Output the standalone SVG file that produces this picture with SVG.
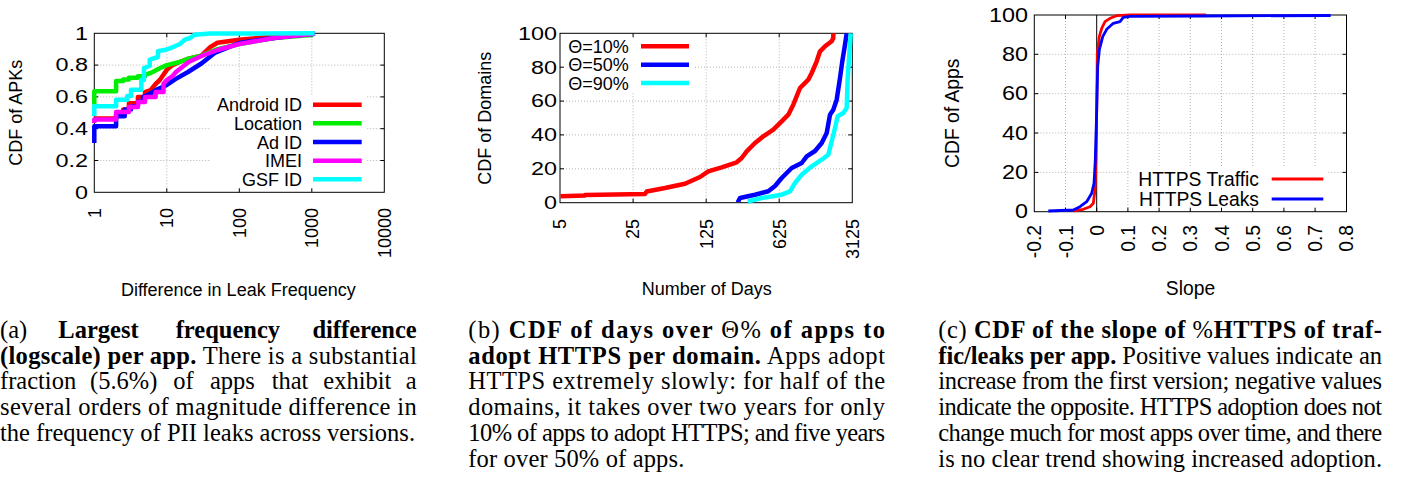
<svg xmlns="http://www.w3.org/2000/svg" width="1406" height="479" viewBox="0 0 1406 479">
<style>
  .frame { fill: none; stroke: #000; stroke-width: 1; }
  .grid { fill: none; stroke: #b4b4b4; stroke-width: 1; stroke-dasharray: 1 2; }
  .tick { fill: none; stroke: #000; stroke-width: 1; }
  .zero { fill: none; stroke: #000; stroke-width: 1; }
  .sans { font-family: "Liberation Sans", Arial, sans-serif; font-size: 18px; fill: #000; }
  .big { font-size: 19.3px; }
  .ylab { text-anchor: end; }
  .xlab { text-anchor: end; }
  .mid { text-anchor: middle; }
  .key { fill: #fff; stroke: none; }
  .thick { fill: none; stroke-width: 4.5; stroke-linejoin: round; stroke-linecap: butt; }
  .thin { fill: none; stroke-width: 2.8; stroke-linejoin: round; stroke-linecap: butt; }
  .red { stroke: #ff0000; }
  .green { stroke: #00ee00; }
  .blue { stroke: #0000ff; }
  .magenta { stroke: #ff00ff; }
  .cyan { stroke: #00ffff; }
  .cap { font-family: "Liberation Serif", "Times New Roman", serif; font-size: 24.5px; fill: #000; }
  .b { font-weight: bold; }
  .m { font-weight: normal; }
</style>

<!-- (a) largest frequency difference, log-scale x axis -->
<g id="plot-a">
  <g class="grid-lines">
    <path class="grid" d="M166.8,33.3V192.3 M239.3,33.3V192.3 M311.8,33.3V192.3"/>
    <path class="grid" d="M94.3,160.5H384.3 M94.3,128.7H384.3 M94.3,96.9H384.3 M94.3,65.1H384.3"/>
  </g>
  <rect class="key" x="211" y="95" width="156" height="93"/>
  <path class="tick" d="M166.8,192.3v-4 M239.3,192.3v-4 M311.8,192.3v-4 M166.8,33.3v4 M239.3,33.3v4 M311.8,33.3v4
    M94.3,160.5h4 M94.3,128.7h4 M94.3,96.9h4 M94.3,65.1h4 M384.3,160.5h-4 M384.3,128.7h-4 M384.3,96.9h-4 M384.3,65.1h-4"/>
  <rect class="frame" x="94.3" y="33.3" width="290" height="159"/>
  <g class="sans ylab">
    <text x="88" y="198.6" textLength="13" lengthAdjust="spacingAndGlyphs">0</text>
    <text x="88" y="166.8" textLength="32.5" lengthAdjust="spacingAndGlyphs">0.2</text>
    <text x="88" y="135" textLength="32.5" lengthAdjust="spacingAndGlyphs">0.4</text>
    <text x="88" y="103.2" textLength="32.5" lengthAdjust="spacingAndGlyphs">0.6</text>
    <text x="88" y="71.4" textLength="32.5" lengthAdjust="spacingAndGlyphs">0.8</text>
    <text x="88" y="39.6" textLength="13" lengthAdjust="spacingAndGlyphs">1</text>
  </g>
  <g class="sans xlab">
    <text transform="translate(100.6,208) rotate(-90)">1</text>
    <text transform="translate(173.1,208) rotate(-90)">10</text>
    <text transform="translate(245.6,208) rotate(-90)">100</text>
    <text transform="translate(318.1,208) rotate(-90)">1000</text>
    <text transform="translate(390.6,208) rotate(-90)">10000</text>
  </g>
  <text class="sans mid" transform="translate(21.7,112.7) rotate(-90)">CDF of APKs</text>
  <text class="sans mid" x="238.3" y="296">Difference in Leak Frequency</text>
  <g class="curves">
    <polyline class="thick red" points="94.3,118.4 116.1,118.4 116.1,114.4 123.2,114.4 123.2,109.6 128.9,109.6 128.9,103.3 137.9,103.3 137.9,96.9 145,96.9 145,92.1 150.7,90 155.6,84 159.8,80 166.8,69.9 172.5,65.1 179.6,62 188.6,58.7 201.4,55.6 210.4,47 217.5,42.8 239.3,39.7 273.9,36.5 311.8,33.8 314.7,33.5"/>
    <polyline class="thick green" points="94.3,104.8 94.3,91.3 116.1,91.3 116.1,81 123.2,81 123.2,79.4 128.9,79.4 128.9,77.8 137.9,77.8 137.9,76.2 145,76.2 145,74.6 150.7,73 159.8,68.3 166.8,65.1 179.6,62 188.6,58.7 201.4,55.6 217.5,49.2 239.3,44 273.9,38 311.8,34.9 314.7,33.5"/>
    <polyline class="thick blue" points="94.3,143 94.3,126.3 116.1,126.3 116.1,116.3 124.7,116.3 124.7,109.6 131,109.6 131,106.4 137.9,106.4 137.9,101.7 143,101.7 143,97 150,93.7 158,89 166.8,85 175,79.4 188,72 201.4,63.5 214.7,53 227,48 239.3,43 261,39.7 290,36 311.8,34 314.7,33.5"/>
    <polyline class="thick magenta" points="94.3,123 94.3,119.5 116.1,119.5 116.1,112 128.9,112 128.9,107 137.9,107 137.9,102 145,102 145,97 155.6,97 155.6,92 163.5,92 163.5,84 166.8,80 172.5,76 176,72 188.6,62 201.4,56 217.5,50 239.3,44 273.9,38 311.8,34 314.7,33.5"/>
    <polyline class="thick cyan" points="94.3,116 94.3,106.3 116.1,106.3 116.1,99.7 127.3,99.7 127.3,96 131,96 131,89.7 141.3,89.7 141.3,80 144,80 144,68 149.7,66 149.7,59.7 158,57 158,51.3 166.8,49.5 174.7,46.3 180,44 184.7,39.7 190,38 194.7,34.7 210,33.6 314.7,33.3"/>
  </g>
  <g class="legend">
    <text class="sans ylab" x="302" y="111.2">Android ID</text>
    <text class="sans ylab" x="302" y="129.8">Location</text>
    <text class="sans ylab" x="302" y="148.5">Ad ID</text>
    <text class="sans ylab" x="302" y="167.2">IMEI</text>
    <text class="sans ylab" x="302" y="185.8">GSF ID</text>
    <path class="thick red" d="M313,104.7H361.7"/>
    <path class="thick green" d="M313,123.3H361.7"/>
    <path class="thick blue" d="M313,142H361.7"/>
    <path class="thick magenta" d="M313,160.7H361.7"/>
    <path class="thick cyan" d="M313,179.3H361.7"/>
  </g>
</g>

<!-- (b) days until a share of apps adopts HTTPS, base-5 log x axis -->
<g id="plot-b">
  <g class="grid-lines">
    <path class="grid" d="M633.1,33.3V202.7 M706.2,33.3V202.7 M779.2,33.3V202.7"/>
    <path class="grid" d="M560,168.8H852.3 M560,134.9H852.3 M560,101.1H852.3 M560,67.2H852.3"/>
  </g>
  <rect class="key" x="562" y="36" width="132" height="57"/>
  <path class="tick" d="M633.1,202.7v-4 M706.2,202.7v-4 M779.2,202.7v-4 M633.1,33.3v4 M706.2,33.3v4 M779.2,33.3v4
    M560,168.8h4 M560,134.9h4 M560,101.1h4 M560,67.2h4 M852.3,168.8h-4 M852.3,134.9h-4 M852.3,101.1h-4 M852.3,67.2h-4"/>
  <rect class="frame" x="560" y="33.3" width="292.3" height="169.4"/>
  <g class="sans ylab">
    <text x="557" y="209" textLength="13" lengthAdjust="spacingAndGlyphs">0</text>
    <text x="557" y="175.1" textLength="26" lengthAdjust="spacingAndGlyphs">20</text>
    <text x="557" y="141.2" textLength="26" lengthAdjust="spacingAndGlyphs">40</text>
    <text x="557" y="107.4" textLength="26" lengthAdjust="spacingAndGlyphs">60</text>
    <text x="557" y="73.5" textLength="26" lengthAdjust="spacingAndGlyphs">80</text>
    <text x="557" y="39.6" textLength="39" lengthAdjust="spacingAndGlyphs">100</text>
  </g>
  <g class="sans xlab">
    <text transform="translate(566.3,219) rotate(-90)">5</text>
    <text transform="translate(639.4,219) rotate(-90)">25</text>
    <text transform="translate(712.5,219) rotate(-90)">125</text>
    <text transform="translate(785.5,219) rotate(-90)">625</text>
    <text transform="translate(858.6,219) rotate(-90)">3125</text>
  </g>
  <text class="sans mid" transform="translate(490.7,118.3) rotate(-90)">CDF of Domains</text>
  <text class="sans mid" x="706.7" y="295">Number of Days</text>
  <g class="curves">
    <polyline class="thick red" points="560.5,196.3 585,195.5 585,195 645,194 646.7,191.5 665,188 685,183.7 700,177 708.3,171.3 721.7,167.3 736.7,162.3 741.7,158 746.7,151.3 755,143 763.3,136.3 773.3,129.7 781.7,121.3 788.3,114.7 793.3,104.7 800,88 808.3,79.7 811.7,73 816.7,61.3 820,51.3 825,46.3 831.7,41.3 833.3,38 833.3,33.3"/>
    <polyline class="thick blue" points="738.3,202 738.3,201.3 740,198 755,194.7 768.3,191.3 775,186 781.7,178 791.7,168 801.7,163 806.7,156.3 815,151 821.7,143 826.7,133 830,114.7 833.3,109.7 836.7,99.7 840,78 842.3,61.3 845,44.7 846.7,33.3"/>
    <polyline class="thick cyan" points="747.7,201.5 761.7,198 781.7,194.7 790,191.3 795,183 801.7,174.7 811.7,166.3 821.7,159.7 828.3,154.7 831.7,141.3 835,128 837.7,116.3 843.3,113 846.7,108 847.7,78 849.3,54.7 850.7,33.3"/>
  </g>
  <g class="legend">
    <text class="sans" x="568.3" y="52.8">Θ=10%</text>
    <text class="sans" x="568.3" y="71.2">Θ=50%</text>
    <text class="sans" x="568.3" y="89.5">Θ=90%</text>
    <path class="thick red" d="M641,46.3H689"/>
    <path class="thick blue" d="M641,64.7H689"/>
    <path class="thick cyan" d="M641,83H689"/>
  </g>
</g>

<!-- (c) slope of the HTTPS share per app -->
<g id="plot-c">
  <g class="grid-lines">
    <path class="grid" d="M1065.5,15V211.7 M1127.9,15V211.7 M1159.1,15V211.7 M1190.3,15V211.7 M1221.5,15V211.7 M1252.7,15V211.7 M1283.9,15V211.7 M1315.1,15V211.7"/>
    <path class="grid" d="M1034.3,172.4H1346.5 M1034.3,133H1346.5 M1034.3,93.7H1346.5 M1034.3,54.3H1346.5"/>
  </g>
  <rect class="key" x="1131" y="168" width="197" height="41"/>
  <path class="tick" d="M1065.5,211.7v-4 M1096.7,211.7v-4 M1127.9,211.7v-4 M1159.1,211.7v-4 M1190.3,211.7v-4 M1221.5,211.7v-4 M1252.7,211.7v-4 M1283.9,211.7v-4 M1315.1,211.7v-4
    M1065.5,15v4 M1127.9,15v4 M1159.1,15v4 M1190.3,15v4 M1221.5,15v4 M1252.7,15v4 M1283.9,15v4 M1315.1,15v4
    M1034.3,172.4h4 M1034.3,133h4 M1034.3,93.7h4 M1034.3,54.3h4 M1346.5,172.4h-4 M1346.5,133h-4 M1346.5,93.7h-4 M1346.5,54.3h-4"/>
  <path class="zero" d="M1096.7,15V211.7"/>
  <rect class="frame" x="1034.3" y="15" width="312.2" height="196.7"/>
  <g class="sans big ylab">
    <text x="1028" y="218.3" textLength="13" lengthAdjust="spacingAndGlyphs">0</text>
    <text x="1028" y="179" textLength="26" lengthAdjust="spacingAndGlyphs">20</text>
    <text x="1028" y="139.6" textLength="26" lengthAdjust="spacingAndGlyphs">40</text>
    <text x="1028" y="100.3" textLength="26" lengthAdjust="spacingAndGlyphs">60</text>
    <text x="1028" y="60.9" textLength="26" lengthAdjust="spacingAndGlyphs">80</text>
    <text x="1028" y="21.6" textLength="39" lengthAdjust="spacingAndGlyphs">100</text>
  </g>
  <g class="sans big xlab">
    <text transform="translate(1041.3,225) rotate(-90)">-0.2</text>
    <text transform="translate(1072.5,225) rotate(-90)">-0.1</text>
    <text transform="translate(1103.7,225) rotate(-90)">0</text>
    <text transform="translate(1134.9,225) rotate(-90)">0.1</text>
    <text transform="translate(1166.1,225) rotate(-90)">0.2</text>
    <text transform="translate(1197.3,225) rotate(-90)">0.3</text>
    <text transform="translate(1228.5,225) rotate(-90)">0.4</text>
    <text transform="translate(1259.7,225) rotate(-90)">0.5</text>
    <text transform="translate(1290.9,225) rotate(-90)">0.6</text>
    <text transform="translate(1322.1,225) rotate(-90)">0.7</text>
    <text transform="translate(1353.3,225) rotate(-90)">0.8</text>
  </g>
  <text class="sans big mid" transform="translate(959,113.3) rotate(-90)">CDF of Apps</text>
  <text class="sans big mid" x="1190.5" y="295">Slope</text>
  <g class="curves">
    <polyline class="thin red" points="1073.3,210.8 1083.3,209.3 1090,206.7 1093.3,203.3 1095,190 1096,160 1096.7,110 1097.3,53.3 1099.3,36.7 1101.7,28.3 1105,21.7 1110,18.3 1116.7,15.7 1130,15 1206,15"/>
    <polyline class="thin blue" points="1048.3,211 1073.3,210 1080,206.7 1086.7,201.7 1091.7,193.3 1094,183.3 1095.3,160 1096.7,110 1097.7,66.7 1099.3,50 1102.7,36.7 1106.7,29.3 1113.3,23.3 1120,21.7 1123.3,17.3 1130,16.3 1200,16 1330.7,15.5"/>
  </g>
  <g class="legend">
    <text class="sans big ylab" x="1259" y="186">HTTPS Traffic</text>
    <text class="sans big ylab" x="1259" y="206">HTTPS Leaks</text>
    <path class="thin red" d="M1271.7,179H1323.3"/>
    <path class="thin blue" d="M1271.7,199H1323.3"/>
  </g>
</g>

<!-- subfigure captions, justified to their column width -->
<g id="caption-a" class="cap">
  <text x="0" y="337.7">(a)</text>
  <text class="b" x="58.3" y="337.7">Largest</text>
  <text class="b" x="175.7" y="337.7">frequency</text>
  <text class="b" x="416.7" y="337.7" text-anchor="end">difference</text>
  <text x="0" y="363.5" textLength="416.7" lengthAdjust="spacing"><tspan class="b">(logscale) per app.</tspan> There is a substantial</text>
  <text x="0" y="389.3">fraction</text>
  <text x="90" y="389.3">(5.6%)</text>
  <text x="173.3" y="389.3">of</text>
  <text x="210" y="389.3">apps</text>
  <text x="271.7" y="389.3">that</text>
  <text x="323.3" y="389.3">exhibit</text>
  <text x="416.7" y="389.3" text-anchor="end">a</text>
  <text x="0" y="415.1" textLength="416.7" lengthAdjust="spacing">several orders of magnitude difference in</text>
  <text x="0" y="440.9" textLength="415" lengthAdjust="spacing">the frequency of PII leaks across versions.</text>
</g>
<g id="caption-b" class="cap">
  <text x="468.3" y="337.7" textLength="416.7" lengthAdjust="spacing">(b) <tspan class="b">CDF of days over <tspan class="m">Θ%</tspan> of apps to</tspan></text>
  <text x="468.3" y="363.5" textLength="416.7" lengthAdjust="spacing"><tspan class="b">adopt HTTPS per domain.</tspan> Apps adopt</text>
  <text x="468.3" y="389.3" textLength="416.7" lengthAdjust="spacing">HTTPS extremely slowly: for half of the</text>
  <text x="468.3" y="415.1" textLength="416.7" lengthAdjust="spacing">domains, it takes over two years for only</text>
  <text x="468.3" y="440.9" textLength="416.7" lengthAdjust="spacing">10% of apps to adopt HTTPS; and five years</text>
  <text x="468.3" y="466.7" textLength="216" lengthAdjust="spacing">for over 50% of apps.</text>
</g>
<g id="caption-c" class="cap">
  <text x="938.3" y="337.7" textLength="443.7" lengthAdjust="spacing">(c) <tspan class="b">CDF of the slope of <tspan class="m">%</tspan>HTTPS of traf-</tspan></text>
  <text x="938.3" y="363.5" textLength="443.7" lengthAdjust="spacing"><tspan class="b">fic/leaks per app.</tspan> Positive values indicate an</text>
  <text x="938.3" y="389.3" textLength="443.7" lengthAdjust="spacing">increase from the first version; negative values</text>
  <text x="938.3" y="415.1" textLength="443.7" lengthAdjust="spacing">indicate the opposite. HTTPS adoption does not</text>
  <text x="938.3" y="440.9" textLength="443.7" lengthAdjust="spacing">change much for most apps over time, and there</text>
  <text x="938.3" y="466.7" textLength="443.7" lengthAdjust="spacing">is no clear trend showing increased adoption.</text>
</g>
</svg>
